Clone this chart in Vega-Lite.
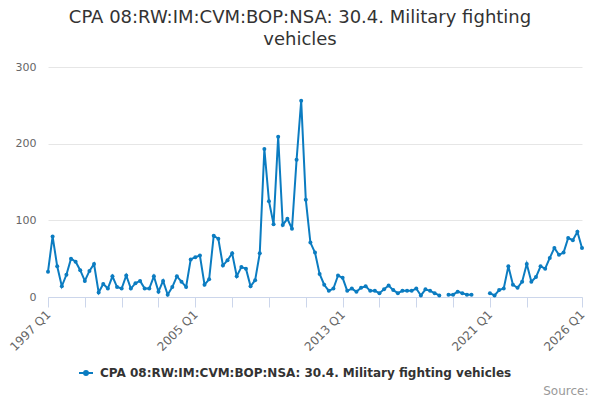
{
  "$schema": "https://vega.github.io/schema/vega-lite/v6.json",
  "width": 534,
  "height": 230,
  "autosize": {"type": "none"},
  "padding": {"left": 48, "top": 67, "right": 18, "bottom": 103},
  "background": "white",
  "title": {
    "text": ["CPA 08:RW:IM:CVM:BOP:NSA: 30.4. Military fighting", "vehicles"],
    "anchor": "middle",
    "frame": "group",
    "dx": -15,
    "offset": 12,
    "lineHeight": 22,
    "font": "DejaVu Sans",
    "fontSize": 18,
    "fontWeight": "normal",
    "color": "#333333"
  },
  "data": {
    "values": [
      {"quarter": "1997 Q1", "value": 33}, {"quarter": "1997 Q2", "value": 79}, {"quarter": "1997 Q3", "value": 40}, {"quarter": "1997 Q4", "value": 14},
      {"quarter": "1998 Q1", "value": 29}, {"quarter": "1998 Q2", "value": 50}, {"quarter": "1998 Q3", "value": 46}, {"quarter": "1998 Q4", "value": 35},
      {"quarter": "1999 Q1", "value": 21}, {"quarter": "1999 Q2", "value": 34}, {"quarter": "1999 Q3", "value": 43}, {"quarter": "1999 Q4", "value": 6},
      {"quarter": "2000 Q1", "value": 17}, {"quarter": "2000 Q2", "value": 11}, {"quarter": "2000 Q3", "value": 27}, {"quarter": "2000 Q4", "value": 13},
      {"quarter": "2001 Q1", "value": 11}, {"quarter": "2001 Q2", "value": 28}, {"quarter": "2001 Q3", "value": 11}, {"quarter": "2001 Q4", "value": 18},
      {"quarter": "2002 Q1", "value": 21}, {"quarter": "2002 Q2", "value": 11}, {"quarter": "2002 Q3", "value": 11}, {"quarter": "2002 Q4", "value": 27},
      {"quarter": "2003 Q1", "value": 7}, {"quarter": "2003 Q2", "value": 21}, {"quarter": "2003 Q3", "value": 3}, {"quarter": "2003 Q4", "value": 13},
      {"quarter": "2004 Q1", "value": 27}, {"quarter": "2004 Q2", "value": 20}, {"quarter": "2004 Q3", "value": 13}, {"quarter": "2004 Q4", "value": 49},
      {"quarter": "2005 Q1", "value": 52}, {"quarter": "2005 Q2", "value": 54}, {"quarter": "2005 Q3", "value": 16}, {"quarter": "2005 Q4", "value": 23},
      {"quarter": "2006 Q1", "value": 80}, {"quarter": "2006 Q2", "value": 76}, {"quarter": "2006 Q3", "value": 41}, {"quarter": "2006 Q4", "value": 48},
      {"quarter": "2007 Q1", "value": 57}, {"quarter": "2007 Q2", "value": 27}, {"quarter": "2007 Q3", "value": 39}, {"quarter": "2007 Q4", "value": 37},
      {"quarter": "2008 Q1", "value": 14}, {"quarter": "2008 Q2", "value": 22}, {"quarter": "2008 Q3", "value": 57}, {"quarter": "2008 Q4", "value": 193},
      {"quarter": "2009 Q1", "value": 125}, {"quarter": "2009 Q2", "value": 95}, {"quarter": "2009 Q3", "value": 209}, {"quarter": "2009 Q4", "value": 94},
      {"quarter": "2010 Q1", "value": 102}, {"quarter": "2010 Q2", "value": 89}, {"quarter": "2010 Q3", "value": 179}, {"quarter": "2010 Q4", "value": 256},
      {"quarter": "2011 Q1", "value": 127}, {"quarter": "2011 Q2", "value": 71}, {"quarter": "2011 Q3", "value": 58}, {"quarter": "2011 Q4", "value": 30},
      {"quarter": "2012 Q1", "value": 16}, {"quarter": "2012 Q2", "value": 8}, {"quarter": "2012 Q3", "value": 11}, {"quarter": "2012 Q4", "value": 28},
      {"quarter": "2013 Q1", "value": 25}, {"quarter": "2013 Q2", "value": 8}, {"quarter": "2013 Q3", "value": 11}, {"quarter": "2013 Q4", "value": 7},
      {"quarter": "2014 Q1", "value": 12}, {"quarter": "2014 Q2", "value": 14}, {"quarter": "2014 Q3", "value": 8}, {"quarter": "2014 Q4", "value": 8},
      {"quarter": "2015 Q1", "value": 5}, {"quarter": "2015 Q2", "value": 10}, {"quarter": "2015 Q3", "value": 15}, {"quarter": "2015 Q4", "value": 9},
      {"quarter": "2016 Q1", "value": 5}, {"quarter": "2016 Q2", "value": 8}, {"quarter": "2016 Q3", "value": 8}, {"quarter": "2016 Q4", "value": 8},
      {"quarter": "2017 Q1", "value": 11}, {"quarter": "2017 Q2", "value": 2}, {"quarter": "2017 Q3", "value": 10}, {"quarter": "2017 Q4", "value": 8},
      {"quarter": "2018 Q1", "value": 5}, {"quarter": "2018 Q2", "value": 2}, {"quarter": "2018 Q3", "value": null}, {"quarter": "2018 Q4", "value": 3},
      {"quarter": "2019 Q1", "value": 3}, {"quarter": "2019 Q2", "value": 7}, {"quarter": "2019 Q3", "value": 5}, {"quarter": "2019 Q4", "value": 3},
      {"quarter": "2020 Q1", "value": 3}, {"quarter": "2020 Q2", "value": null}, {"quarter": "2020 Q3", "value": null}, {"quarter": "2020 Q4", "value": null},
      {"quarter": "2021 Q1", "value": 5}, {"quarter": "2021 Q2", "value": 2}, {"quarter": "2021 Q3", "value": 9}, {"quarter": "2021 Q4", "value": 11},
      {"quarter": "2022 Q1", "value": 40}, {"quarter": "2022 Q2", "value": 16}, {"quarter": "2022 Q3", "value": 12}, {"quarter": "2022 Q4", "value": 20},
      {"quarter": "2023 Q1", "value": 43}, {"quarter": "2023 Q2", "value": 20}, {"quarter": "2023 Q3", "value": 26}, {"quarter": "2023 Q4", "value": 40},
      {"quarter": "2024 Q1", "value": 37}, {"quarter": "2024 Q2", "value": 51}, {"quarter": "2024 Q3", "value": 64}, {"quarter": "2024 Q4", "value": 55},
      {"quarter": "2025 Q1", "value": 58}, {"quarter": "2025 Q2", "value": 77}, {"quarter": "2025 Q3", "value": 74}, {"quarter": "2025 Q4", "value": 85},
      {"quarter": "2026 Q1", "value": 64}
    ]
  },
  "mark": {
    "type": "line",
    "strokeWidth": 2,
    "invalid": "break-paths-show-domains",
    "point": {"filled": true, "size": 16}
  },
  "encoding": {
    "x": {
      "field": "quarter",
      "type": "ordinal",
      "sort": null,
      "scale": {"type": "point", "padding": 0},
      "axis": {
        "values": ["1997 Q1", "1999 Q1", "2001 Q1", "2003 Q1", "2005 Q1", "2007 Q1", "2009 Q1", "2011 Q1", "2013 Q1", "2015 Q1", "2017 Q1", "2019 Q1", "2021 Q1", "2023 Q1", "2026 Q1"],
        "labelExpr": "indexof(['1997 Q1','2005 Q1','2013 Q1','2021 Q1','2026 Q1'], datum.value) >= 0 ? datum.value : ''",
        "labelAngle": -45,
        "labelAlign": "right",
        "labelBaseline": "middle",
        "labelPadding": 5,
        "labelFont": "DejaVu Sans",
        "labelFontSize": 12,
        "labelColor": "#666666",
        "labelOverlap": false,
        "domainColor": "#ccd6eb",
        "tickColor": "#ccd6eb",
        "tickSize": 10,
        "grid": false,
        "title": "Source:",
        "titleX": 540,
        "titleY": 97,
        "titleAlign": "right",
        "titleBaseline": "alphabetic",
        "titleFont": "DejaVu Sans",
        "titleFontSize": 12,
        "titleFontWeight": "normal",
        "titleColor": "#999999"
      }
    },
    "y": {
      "field": "value",
      "type": "quantitative",
      "scale": {"domain": [0, 300], "nice": false},
      "axis": {
        "values": [0, 100, 200, 300],
        "title": null,
        "domain": false,
        "ticks": false,
        "gridColor": "#e6e6e6",
        "labelPadding": 12,
        "labelFont": "DejaVu Sans",
        "labelFontSize": 11,
        "labelColor": "#666666"
      }
    },
    "color": {
      "datum": "CPA 08:RW:IM:CVM:BOP:NSA: 30.4. Military fighting vehicles",
      "type": "nominal",
      "scale": {"range": ["#0b7cc1"]},
      "legend": {
        "title": null,
        "orient": "none",
        "legendX": 30,
        "legendY": 298,
        "padding": 0,
        "symbolType": "M-1,0L1,0M-0.28,0A0.28,0.28,0,1,1,0.28,0A0.28,0.28,0,1,1,-0.28,0Z",
        "symbolSize": 196,
        "symbolStrokeWidth": 2,
        "symbolFillColor": "#0b7cc1",
        "symbolStrokeColor": "#0b7cc1",
        "labelFont": "DejaVu Sans",
        "labelFontSize": 12,
        "labelFontWeight": "bold",
        "labelColor": "#333333",
        "labelLimit": 0,
        "labelOffset": 6
      }
    }
  },
  "config": {"view": {"stroke": null}}
}
